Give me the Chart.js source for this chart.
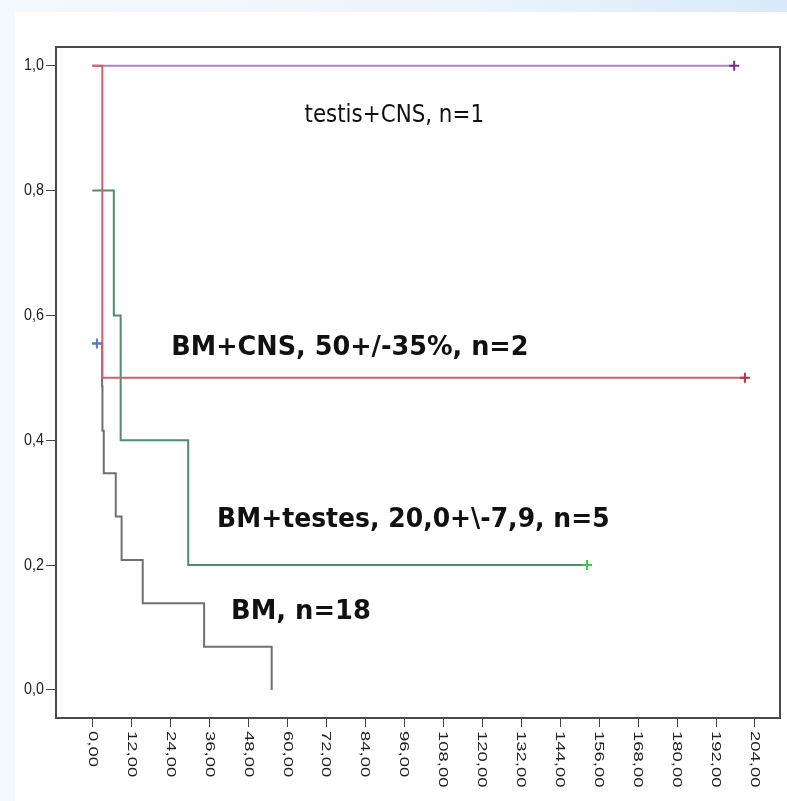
<!DOCTYPE html>
<html><head><meta charset="utf-8">
<script src="https://cdn.jsdelivr.net/npm/chart.js@4/dist/chart.umd.min.js"></script>
<style>
html,body{margin:0;padding:0;width:787px;height:801px;overflow:hidden;}
body{position:relative;background:linear-gradient(90deg,#f4f9fe 0%,#eef5fc 55%,#d9eaf8 100%);}
#panel{position:absolute;left:15px;top:12px;right:0;bottom:0;background:#fff;}
#wrap{position:absolute;left:0;top:0;width:787px;height:801px;}
</style></head>
<body><div id="panel"></div><div id="wrap"><canvas id="c" width="787" height="801"></canvas></div>
<script>
// ---- data (months vs. cumulative survival) ----
const xTicks = [0,12,24,36,48,60,72,84,96,108,120,132,144,156,168,180,192,204];
const xTickLabels = ['0,00','12,00','24,00','36,00','48,00','60,00','72,00','84,00','96,00','108,00','120,00','132,00','144,00','156,00','168,00','180,00','192,00','204,00'];
const yTicks = [0,0.2,0.4,0.6,0.8,1.0];
const yTickLabels = ['0,0','0,2','0,4','0,6','0,8','1,0'];

const bmTimes = [0,3.0,3.1,3.5,7.2,9.0,15.5,34.4,55.2];
const bmSurv  = [0.555,0.486,0.415,0.347,0.278,0.208,0.139,0.069,0.0];
const bmCensorTimes = [1.4];
const bmCensorSurv  = [0.555];

const bmTestesTimes = [0,6.6,8.7,29.5,152.3];
const bmTestesSurv  = [0.8,0.6,0.4,0.2,0.2];
const bmTestesCensorTimes = [152.3];
const bmTestesCensorSurv  = [0.2];

const bmCnsTimes = [0,3.06,200.9];
const bmCnsSurv  = [1.0,0.5,0.5];
const bmCnsCensorTimes = [200.9];
const bmCnsCensorSurv  = [0.5];

const testisCnsTimes = [0,197.6];
const testisCnsSurv  = [1.0,1.0];
const testisCnsCensorTimes = [197.6];
const testisCnsCensorSurv  = [1.0];

const annotations = [
  {text:'testis+CNS, n=1', x:65.3, y:0.92, bold:false, size:21, sx:1.02},
  {text:'BM+CNS, 50+/-35%, n=2', x:24.3, y:0.548, bold:true, size:23, sx:1.11},
  {text:'BM+testes, 20,0+\\-7,9, n=5', x:38.4, y:0.272, bold:true, size:23, sx:1.09},
  {text:'BM, n=18', x:42.7, y:0.125, bold:true, size:23, sx:1.12}
];

const pts = (xs, ys) => xs.map((x,i)=>({x:x, y:ys[i]}));

function stepLine(data, color, order){
  return {type:'line', data:data, borderColor:color, borderWidth:2, stepped:true,
          pointRadius:0, fill:false, order:order};
}
function censor(data, color){
  return {type:'scatter', data:data, borderColor:color, backgroundColor:color,
          pointStyle:'cross', pointRadius:5, pointBorderWidth:2, borderWidth:2, order:0};
}

const framePlugin = {
  id:'frame',
  afterDraw(chart){
    const {ctx, chartArea:a, scales} = chart;
    ctx.save();
    ctx.strokeStyle = '#4a4a4a';
    ctx.lineWidth = 2;
    ctx.strokeRect(a.left, a.top, a.right - a.left, a.bottom - a.top);
    ctx.fillStyle = '#222';
    ctx.font = '13px "Liberation Sans", Arial, sans-serif';
    // y tick labels
    ctx.textBaseline = 'middle';
    ctx.textAlign = 'right';
    yTicks.forEach((v,i)=>{
      const py = scales.y.getPixelForValue(v);
      ctx.save();
      ctx.translate(a.left - 12, py);
      ctx.scale(1.1, 1.25);
      ctx.fillText(yTickLabels[i], 0, 0);
      ctx.restore();
    });
    // rotated x tick labels (clockwise, reading downward)
    ctx.textAlign = 'left';
    xTicks.forEach((v,i)=>{
      const px = scales.x.getPixelForValue(v);
      ctx.save();
      ctx.translate(px, a.bottom + 13);
      ctx.rotate(Math.PI/2);
      ctx.scale(1.42, 1.05);
      ctx.fillText(xTickLabels[i], 0, 0);
      ctx.restore();
    });
    // text annotations
    ctx.fillStyle = '#111';
    annotations.forEach(an=>{
      const px = scales.x.getPixelForValue(an.x);
      const py = scales.y.getPixelForValue(an.y);
      ctx.save();
      ctx.font = (an.bold ? 'bold ' : '') + an.size + 'px "DejaVu Sans", Verdana, sans-serif';
      ctx.translate(px, py);
      ctx.scale(an.sx, 1.15);
      ctx.fillText(an.text, 0, 0);
      ctx.restore();
    });
    ctx.restore();
  }
};

new Chart(document.getElementById('c'), {
  data:{datasets:[
    stepLine(pts(bmCnsTimes,bmCnsSurv), '#d1606c', 1),
    stepLine(pts(bmTestesTimes,bmTestesSurv), '#4e8d68', 2),
    stepLine(pts(bmTimes,bmSurv), '#707070', 3),
    stepLine(pts(testisCnsTimes,testisCnsSurv), '#b27fc2', 4),
    censor(pts(bmCensorTimes,bmCensorSurv), '#5a74d0'),
    censor(pts(bmTestesCensorTimes,bmTestesCensorSurv), '#3cc455'),
    censor(pts(bmCnsCensorTimes,bmCnsCensorSurv), '#c0303e'),
    censor(pts(testisCnsCensorTimes,testisCnsCensorSurv), '#7a2d86')
  ]},
  options:{
    responsive:false, animation:false, devicePixelRatio:1,
    layout:{padding:{top:47,right:3,left:0,bottom:0}},
    plugins:{legend:{display:false}, tooltip:{enabled:false}},
    scales:{
      x:{type:'linear', min:-11.2, max:211.7,
         afterBuildTicks:s=>{s.ticks = xTicks.map(v=>({value:v}));},
         afterFit:s=>{s.height = 83;},
         ticks:{display:false},
         grid:{drawOnChartArea:false, drawTicks:true, tickLength:9, color:'#444', lineWidth:1},
         border:{display:false}},
      y:{type:'linear', min:-0.045, max:1.03,
         afterBuildTicks:s=>{s.ticks = yTicks.map(v=>({value:v}));},
         afterFit:s=>{s.width = 56;},
         ticks:{display:false},
         grid:{drawOnChartArea:false, drawTicks:true, tickLength:10, color:'#444', lineWidth:1},
         border:{display:false}}
    }
  },
  plugins:[framePlugin]
});
</script></body></html>
